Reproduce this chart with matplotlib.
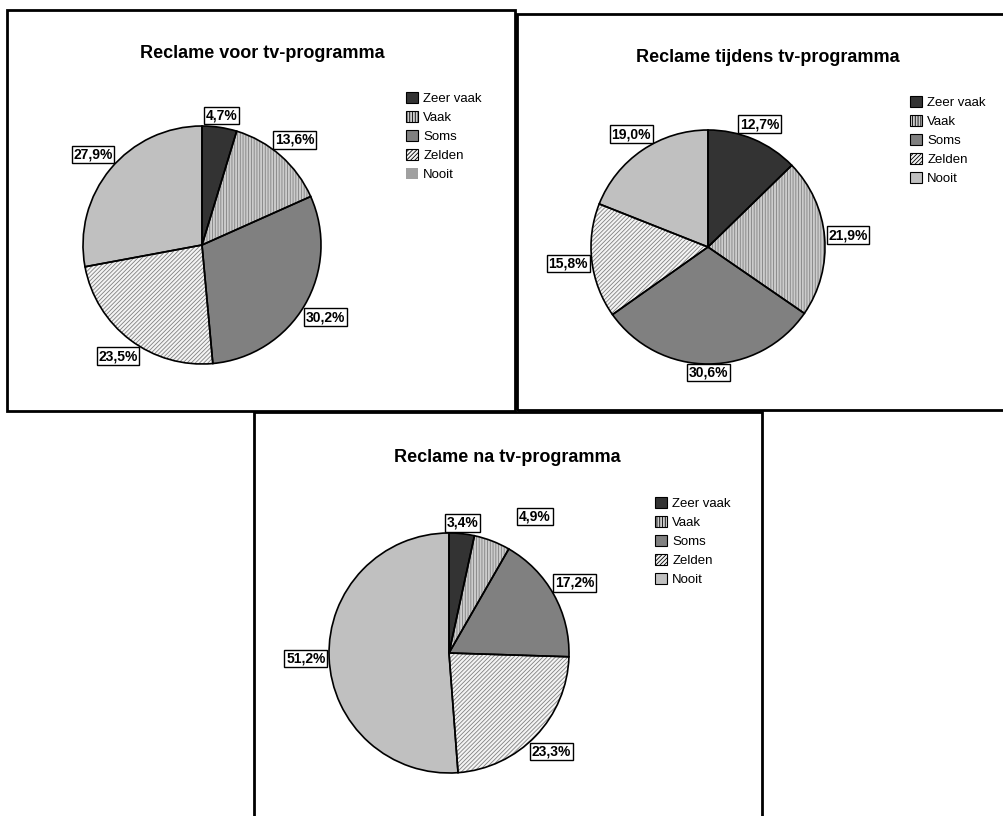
import numpy as np
import matplotlib
matplotlib.use("Agg")
import matplotlib.pyplot as plt
from matplotlib.patches import Rectangle, Patch

plt.rcParams['font.family'] = ['Liberation Sans', 'DejaVu Sans']
plt.rcParams['hatch.linewidth'] = 0.6

## Data
categories = ['Zeer vaak', 'Vaak', 'Soms', 'Zelden', 'Nooit']
titles = ['Reclame voor tv-programma', 'Reclame tijdens tv-programma', 'Reclame na tv-programma']
voor = [4.7, 13.6, 30.2, 23.5, 27.9]
tijdens = [12.7, 21.9, 30.6, 15.8, 19.0]
na = [3.4, 4.9, 17.2, 23.3, 51.2]

## Styles
faces = ['#333333', '#cccccc', '#808080', '#f4f4f4', '#c0c0c0']
hatches = [None, '||||||', None, '////////', None]

W, H = 1004, 816
fig = plt.figure(figsize=(W / 100, H / 100), dpi=100)

def fx(x):
    return x / W

def fy(y):
    return 1 - y / H

# panel frames (pixel coords)
frames = [(7, 10, 515, 411), (517, 14, 1010, 410), (254, 412, 762, 830)]
for x0, y0, x1, y1 in frames:
    fig.add_artist(Rectangle((fx(x0), fy(y1)), fx(x1) - fx(x0), fy(y0) - fy(y1),
                             transform=fig.transFigure, fill=False, lw=2, ec='black'))

# per panel: pie centre/radius, title pos, legend pos
panels = [
    dict(vals=voor, c=(202, 245), r=119, t=(262, 53), leg=(406, 92)),
    dict(vals=tijdens, c=(708, 247), r=117, t=(768, 57), leg=(910, 96)),
    dict(vals=na, c=(449, 653), r=120, t=(507, 458), leg=(655, 497)),
]
nudges = {(2, 1): (0.31, 0.08)}   # Excel moved this label to avoid overlap

lim = 1.6
for p, (pan, title) in enumerate(zip(panels, titles)):
    cx, cy = pan['c']
    r = pan['r']
    half = lim * r
    ax = fig.add_axes([fx(cx - half), fy(cy + half), 2 * half / W, 2 * half / H])
    ax.set_xlim(-lim, lim)
    ax.set_ylim(-lim, lim)
    ax.axis('off')

    # fill + hatch (hatch colour follows edge colour -> grey)
    wedges, _ = ax.pie(pan['vals'], colors=faces, startangle=90, counterclock=False,
                       radius=1, wedgeprops=dict(edgecolor='#808080', linewidth=0))
    for w, h in zip(wedges, hatches):
        if h:
            w.set_hatch(h)
    # black outlines on top
    ax.pie(pan['vals'], startangle=90, counterclock=False, radius=1,
           wedgeprops=dict(fill=False, edgecolor='black', linewidth=1.2))
    ax.set_xlim(-lim, lim)
    ax.set_ylim(-lim, lim)

    # boxed percentage labels outside the pie
    for i, (w, v) in enumerate(zip(wedges, pan['vals'])):
        ang = np.deg2rad((w.theta1 + w.theta2) / 2)
        d = 1 + (1 + abs(np.cos(ang)) * 22 + abs(np.sin(ang)) * 7.5) / r
        x, y = d * np.cos(ang), d * np.sin(ang)
        nx, ny = nudges.get((p, i), (0, 0))
        ax.text(x + nx, y + ny, ('%.1f%%' % v).replace('.', ','), ha='center', va='center',
                fontsize=10, fontweight='bold',
                bbox=dict(boxstyle='square,pad=0.12', fc='white', ec='black', lw=1))

    fig.text(fx(pan['t'][0]), fy(pan['t'][1]), title, ha='center', va='center',
             fontsize=13, fontweight='bold')

    handles = []
    for k in range(len(categories)):
        if p == 0 and k == 4:
            handles.append(Patch(fc='#a0a0a0', ec='none'))
        else:
            handles.append(Patch(fc=faces[k], ec='black', hatch=hatches[k], lw=0.8))
    ax.legend(handles, categories, loc='upper left', bbox_to_anchor=(fx(pan['leg'][0]), fy(pan['leg'][1])),
              bbox_transform=fig.transFigure, frameon=False, fontsize=9.5,
              handlelength=0.9, handleheight=0.9, handletextpad=0.4,
              labelspacing=0.45, borderpad=0, borderaxespad=0)

plt.savefig('out.png', dpi=100, facecolor='white')
